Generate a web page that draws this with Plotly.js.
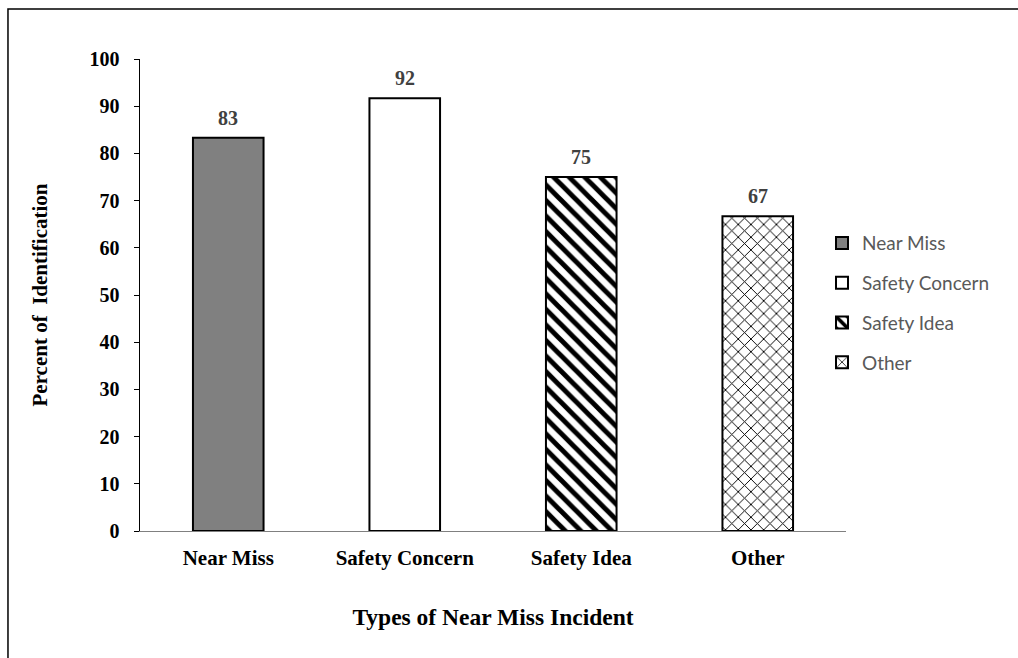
<!DOCTYPE html>
<html>
<head>
<meta charset="utf-8">
<script src="https://cdn.plot.ly/plotly-3.0.1.min.js"></script>
<style>html,body{margin:0;padding:0;background:#fff;}#chart{width:1018px;height:658px;}</style>
</head>
<body>
<div id="chart"></div>
<script>
const categories = ["Near Miss", "Safety Concern", "Safety Idea", "Other"];
const values = [83.3, 91.7, 75.0, 66.7];
const valueLabels = ["83", "92", "75", "67"];
const yTicks = [0, 10, 20, 30, 40, 50, 60, 70, 80, 90, 100];

const serif = "Liberation Serif, Times New Roman, serif";
const fills = ["#808080", "#ffffff", "#ffffff", "#ffffff"];
const patterns = [
  {shape: ""},
  {shape: ""},
  {shape: "\\", fgcolor: "#000000", bgcolor: "#ffffff", size: 11, solidity: 0.45, fillmode: "replace"},
  {shape: "x", fgcolor: "#000000", bgcolor: "#ffffff", size: 9, solidity: 0.2, fillmode: "replace"}
];

const traces = categories.map((c, i) => ({
  type: "bar",
  x: [c],
  y: [values[i]],
  name: c,
  legendgroup: "g" + i,
  marker: {color: fills[i], line: {color: "#000000", width: 2}, pattern: patterns[i]},
  hoverinfo: "x+y"
}));

const annotations = categories.map((c, i) => ({
  x: c, y: values[i], xref: "x", yref: "y",
  text: valueLabels[i], showarrow: false,
  yanchor: "bottom", yshift: 7,
  font: {family: serif, size: 20, color: "#404040", weight: "bold"}
}));

const layout = {
  width: 1018, height: 658,
  margin: {l: 140, r: 172, t: 59, b: 127},
  paper_bgcolor: "#ffffff", plot_bgcolor: "#ffffff",
  bargap: 0.6,
  showlegend: true,
  legend: {
    x: 0.966, y: 0.65, xanchor: "left", yanchor: "top",
    font: {family: "Lato, Open Sans, sans-serif", size: 19, color: "#595959"},
    traceorder: "grouped", tracegroupgap: 12,
    itemwidth: 30, bgcolor: "rgba(0,0,0,0)"
  },
  annotations: annotations,
  xaxis: {
    type: "category",
    categoryorder: "array", categoryarray: categories,
    showline: true, linecolor: "#808080", linewidth: 1,
    ticks: "", showgrid: false, zeroline: false,
    ticklabelstandoff: 8,
    tickfont: {family: serif, size: 21, color: "#000000", weight: "bold"},
    title: {text: "Types of Near Miss Incident", standoff: 39,
      font: {family: serif, size: 23.5, color: "#000000", weight: "bold"}}
  },
  yaxis: {
    range: [0, 100], tickvals: yTicks,
    showline: true, linecolor: "#000000", linewidth: 1.5,
    ticks: "outside", ticklen: 5, tickcolor: "#000000",
    ticklabelstandoff: 10,
    showgrid: false, zeroline: false,
    tickfont: {family: serif, size: 20, color: "#000000", weight: "bold"},
    title: {text: "Percent of  Identification", standoff: 36,
      font: {family: serif, size: 21, color: "#000000", weight: "bold"}}
  },
  shapes: [{
    type: "rect", xref: "paper", yref: "paper",
    x0: -0.187, x1: 1.6, y0: -0.6, y1: 1.106,
    line: {color: "#000000", width: 1.5}, fillcolor: "rgba(0,0,0,0)", layer: "below"
  }]
};

Plotly.newPlot("chart", traces, layout, {displayModeBar: false, staticPlot: true});
</script>
</body>
</html>
